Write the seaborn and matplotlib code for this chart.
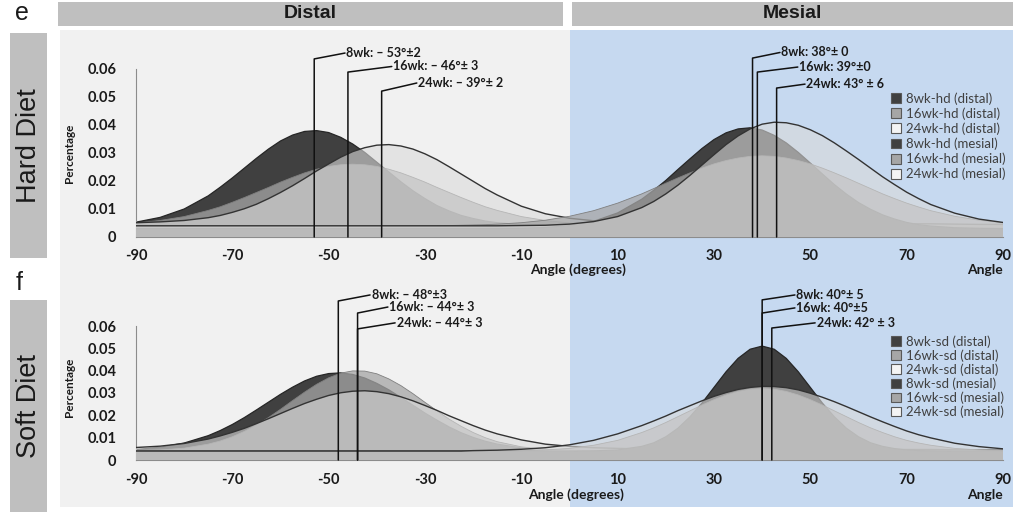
import matplotlib
matplotlib.use("Agg")
import matplotlib.pyplot as plt
from matplotlib.patches import Rectangle, Patch
import pandas as pd
import seaborn as sns

# ---------------------------------------------------------------- data
angles = [-90, -85, -80, -75, -72.5, -70, -67.5, -65, -62.5, -60,
          -57.5, -55, -52.5, -50, -47.5, -45, -42.5, -40, -37.5, -35,
          -32.5, -30, -27.5, -25, -22.5, -20, -17.5, -15, -10, -5,
          0, 5, 10, 15, 17.5, 20, 22.5, 25, 27.5, 30,
          32.5, 35, 37.5, 40, 42.5, 45, 47.5, 50, 52.5, 55,
          57.5, 60, 62.5, 65, 67.5, 70, 72.5, 75, 80, 85,
          90]

# Hard diet, distribution of angles (fraction per degree)
hd_distal_8wk = [.0053, .0070, .0100, .0147, .0178, .0211, .0246, .0281, .0314, .0343,
                 .0364, .0377, .0380, .0373, .0356, .0332, .0302, .0267, .0232, .0197,
                 .0165, .0137, .0112, .0093, .0077, .0066, .0057, .0051, .0044, .0041,
                 .0040, .0040, .0039, .0039, .0039, .0039, .0039, .0039, .0039, .0039,
                 .0039, .0038, .0038, .0038, .0038, .0038, .0038, .0038, .0038, .0037,
                 .0037, .0037, .0037, .0037, .0037, .0037, .0037, .0037, .0036, .0036,
                 .0035]
hd_distal_16wk = [.0050, .0059, .0073, .0095, .0108, .0124, .0141, .0159, .0177, .0196,
                  .0213, .0229, .0242, .0252, .0258, .0260, .0258, .0252, .0242, .0229,
                  .0213, .0196, .0177, .0159, .0141, .0124, .0108, .0095, .0073, .0059,
                  .0050, .0045, .0042, .0041, .0041, .0041, .0041, .0041, .0041, .0041,
                  .0041, .0040, .0040, .0040, .0040, .0040, .0040, .0040, .0040, .0040,
                  .0040, .0040, .0040, .0040, .0040, .0040, .0040, .0040, .0040, .0040,
                  .0040]
hd_distal_24wk = [.0051, .0054, .0059, .0069, .0077, .0088, .0101, .0117, .0137, .0159,
                  .0183, .0209, .0236, .0261, .0285, .0305, .0319, .0328, .0330, .0325,
                  .0314, .0297, .0276, .0251, .0225, .0199, .0173, .0150, .0110, .0083,
                  .0067, .0058, .0053, .0050, .0050, .0050, .0050, .0050, .0050, .0050,
                  .0050, .0048, .0048, .0048, .0048, .0048, .0048, .0048, .0048, .0047,
                  .0047, .0047, .0047, .0047, .0047, .0047, .0047, .0047, .0046, .0045,
                  .0045]
hd_mesial_8wk = [.0030, .0030, .0030, .0030, .0030, .0030, .0030, .0030, .0030, .0030,
                 .0030, .0030, .0030, .0030, .0030, .0030, .0030, .0030, .0030, .0030,
                 .0030, .0030, .0030, .0030, .0030, .0030, .0030, .0030, .0031, .0034,
                 .0041, .0056, .0086, .0135, .0167, .0202, .0241, .0279, .0316, .0348,
                 .0372, .0386, .0390, .0382, .0363, .0336, .0302, .0264, .0225, .0187,
                 .0153, .0123, .0099, .0079, .0064, .0052, .0044, .0039, .0033, .0031,
                 .0030]
hd_mesial_16wk = [.0040, .0040, .0040, .0040, .0040, .0040, .0040, .0040, .0040, .0040,
                  .0040, .0040, .0040, .0040, .0040, .0040, .0040, .0040, .0040, .0040,
                  .0040, .0040, .0040, .0041, .0042, .0043, .0044, .0046, .0051, .0060,
                  .0074, .0094, .0121, .0154, .0173, .0192, .0211, .0229, .0246, .0261,
                  .0273, .0282, .0288, .0290, .0288, .0282, .0273, .0261, .0246, .0229,
                  .0211, .0192, .0173, .0154, .0137, .0121, .0107, .0094, .0074, .0060,
                  .0051]
hd_mesial_24wk = [.0040, .0040, .0040, .0040, .0040, .0040, .0040, .0040, .0040, .0040,
                  .0040, .0040, .0040, .0040, .0040, .0040, .0040, .0040, .0040, .0040,
                  .0040, .0040, .0040, .0040, .0040, .0040, .0040, .0040, .0041, .0042,
                  .0046, .0055, .0073, .0105, .0127, .0154, .0185, .0220, .0257, .0294,
                  .0330, .0361, .0386, .0403, .0410, .0408, .0399, .0383, .0362, .0336,
                  .0307, .0277, .0246, .0215, .0187, .0160, .0137, .0116, .0085, .0064,
                  .0052]

# Soft diet
sd_distal_8wk = [.0047, .0057, .0076, .0109, .0132, .0159, .0190, .0224, .0259, .0294,
                 .0326, .0354, .0375, .0387, .0390, .0383, .0367, .0343, .0314, .0280,
                 .0245, .0210, .0178, .0148, .0122, .0101, .0084, .0071, .0054, .0046,
                 .0042, .0040, .0040, .0039, .0039, .0039, .0039, .0039, .0039, .0039,
                 .0039, .0039, .0039, .0039, .0039, .0039, .0039, .0039, .0039, .0039,
                 .0038, .0038, .0038, .0038, .0038, .0038, .0038, .0038, .0038, .0038,
                 .0038]
sd_distal_16wk = [.0042, .0045, .0053, .0071, .0085, .0104, .0128, .0157, .0190, .0227,
                  .0266, .0304, .0339, .0368, .0389, .0399, .0398, .0386, .0363, .0333,
                  .0297, .0258, .0220, .0183, .0151, .0123, .0100, .0082, .0059, .0047,
                  .0042, .0040, .0040, .0040, .0040, .0040, .0040, .0040, .0040, .0040,
                  .0040, .0040, .0040, .0040, .0040, .0040, .0040, .0040, .0040, .0040,
                  .0040, .0040, .0040, .0040, .0040, .0040, .0040, .0040, .0040, .0040,
                  .0040]
sd_distal_24wk = [.0056, .0062, .0074, .0094, .0108, .0124, .0142, .0163, .0185, .0208,
                  .0231, .0253, .0272, .0289, .0301, .0308, .0310, .0306, .0297, .0283,
                  .0265, .0244, .0222, .0198, .0176, .0154, .0134, .0117, .0090, .0071,
                  .0061, .0055, .0052, .0050, .0050, .0050, .0050, .0050, .0050, .0050,
                  .0050, .0048, .0048, .0048, .0048, .0048, .0048, .0048, .0048, .0047,
                  .0047, .0047, .0047, .0047, .0047, .0047, .0047, .0047, .0046, .0046,
                  .0046]
sd_mesial_8wk = [.0040, .0040, .0040, .0040, .0040, .0040, .0040, .0040, .0040, .0040,
                 .0040, .0040, .0040, .0040, .0040, .0040, .0040, .0040, .0040, .0040,
                 .0040, .0040, .0040, .0040, .0040, .0040, .0040, .0040, .0040, .0040,
                 .0040, .0041, .0045, .0061, .0077, .0104, .0142, .0193, .0255, .0325,
                 .0395, .0455, .0496, .0510, .0496, .0455, .0395, .0325, .0255, .0193,
                 .0142, .0104, .0077, .0061, .0051, .0045, .0042, .0041, .0040, .0040,
                 .0040]
sd_mesial_16wk = [.0040, .0040, .0040, .0040, .0040, .0040, .0040, .0040, .0040, .0040,
                  .0040, .0040, .0040, .0040, .0040, .0040, .0040, .0040, .0040, .0040,
                  .0040, .0040, .0040, .0040, .0040, .0040, .0040, .0041, .0042, .0045,
                  .0052, .0066, .0088, .0123, .0144, .0168, .0194, .0220, .0246, .0270,
                  .0291, .0307, .0317, .0320, .0317, .0307, .0291, .0270, .0246, .0220,
                  .0194, .0168, .0144, .0123, .0104, .0088, .0076, .0066, .0052, .0045,
                  .0042]
sd_mesial_24wk = [.0040, .0040, .0040, .0040, .0040, .0040, .0040, .0040, .0040, .0040,
                  .0040, .0040, .0040, .0040, .0040, .0040, .0040, .0040, .0040, .0040,
                  .0040, .0040, .0040, .0040, .0040, .0042, .0043, .0044, .0048, .0055,
                  .0068, .0088, .0117, .0154, .0175, .0197, .0221, .0243, .0265, .0285,
                  .0302, .0316, .0325, .0330, .0329, .0324, .0314, .0299, .0281, .0261,
                  .0239, .0216, .0193, .0171, .0150, .0130, .0113, .0099, .0075, .0060,
                  .0050]

y_ticks = [0, 0.01, 0.02, 0.03, 0.04, 0.05, 0.06]
y_tick_labels = ["0", "0.01", "0.02", "0.03", "0.04", "0.05", "0.06"]
x_ticks = [-90, -70, -50, -30, -10, 10, 30, 50, 70, 90]
x_tick_labels = ["-90", "-70", "-50", "-30", "-10", "10", "30", "50", "70", "90"]

hd_labels = ["8wk-hd (distal)", "16wk-hd (distal)", "24wk-hd (distal)",
             "8wk-hd (mesial)", "16wk-hd (mesial)", "24wk-hd (mesial)"]
sd_labels = ["8wk-sd (distal)", "16wk-sd (distal)", "24wk-sd (distal)",
             "8wk-sd (mesial)", "16wk-sd (mesial)", "24wk-sd (mesial)"]

hd_means = [-53, -46, -39, 38, 39, 43]
sd_means = [-48, -44, -44, 40, 40, 42]
hd_texts = ["8wk: \u2013 53°±2", "16wk: \u2013 46°± 3", "24wk: \u2013 39°± 2",
            "8wk: 38°± 0", "16wk: 39°±0", "24wk: 43° ± 6"]
sd_texts = ["8wk: \u2013 48°±3", "16wk: \u2013 44°± 3", "24wk: \u2013 44°± 3",
            "8wk: 40°± 5", "16wk: 40°±5", "24wk: 42° ± 3"]

# ---------------------------------------------------------------- style
sns.set_theme(style="white")
plt.rcParams["font.family"] = ["Lato", "DejaVu Sans"]

W, H = 1013, 517
fig = plt.figure(figsize=(W / 100, H / 100), dpi=100)


def fx(px):
    return px / W


def fy(py):
    return 1 - py / H


def fig_rect(x0, y0, x1, y1, color):
    fig.patches.append(Rectangle((fx(x0), fy(y1)), fx(x1 - x0), (y1 - y0) / H,
                                 transform=fig.transFigure, facecolor=color,
                                 edgecolor="none", zorder=-10))


# panel backgrounds and headers
fig_rect(60, 30, 569.5, 507, "#f1f1f1")
fig_rect(569.5, 30, 1013, 507, "#c6d9f0")
fig_rect(58, 2, 563, 26, "#bfbfbf")
fig_rect(572, 2, 1013, 26, "#bfbfbf")
fig_rect(10, 33, 47, 258, "#bfbfbf")
fig_rect(10, 300, 47, 512, "#bfbfbf")

head = dict(family=["Liberation Sans", "DejaVu Sans"], fontweight="bold", fontsize=14,
            color="#1a1a1a", ha="center", va="center")
fig.text(fx(310), fy(14), "Distal", **head)
fig.text(fx(792), fy(14), "Mesial", **head)
side = dict(family=["Liberation Sans", "DejaVu Sans"], fontsize=19.5, color="#1a1a1a",
            ha="center", va="center", rotation=90)
fig.text(fx(29), fy(146), "Hard Diet", **side)
fig.text(fx(29), fy(406), "Soft Diet", **side)
letter = dict(family=["Liberation Sans", "DejaVu Sans"], fontsize=18, color="#1a1a1a",
              ha="center", va="center")
fig.text(fx(22), fy(13), "e", **letter)
fig.text(fx(19), fy(283), "f", **letter)

# series appearance: 8wk dark, 16wk mid grey, 24wk translucent light grey with outline
looks = [
    dict(face="#404040", alpha=1.0, edge="#262626", lw=0.9),
    dict(face="#a6a6a6", alpha=0.75, edge="#7f7f7f", lw=0.6),
    dict(face="#dadada", alpha=0.6, edge="#333333", lw=1.0),
]


def draw_panel(ax, series, labels, means, texts, ann, leg_y, leg_pad):
    long = pd.DataFrame({
        "angle": angles * len(series),
        "pct": [v for s in series for v in s],
        "series": [lab for lab in labels for _ in angles],
    })
    for i, lab in enumerate(labels):
        sty = looks[i % 3]
        part = long[long["series"] == lab]
        ax.fill_between(part["angle"], 0, part["pct"], facecolor=sty["face"],
                        alpha=sty["alpha"], edgecolor="none", zorder=2 + i)
        sns.lineplot(data=part, x="angle", y="pct", color=sty["edge"], lw=sty["lw"],
                     ax=ax, zorder=2.5 + i, legend=False)

    ax.set_xlim(-90, 90)
    ax.set_ylim(0, 0.06)
    ax.set_facecolor("none")
    ax.set_xticks(x_ticks, x_tick_labels)
    ax.set_yticks(y_ticks, y_tick_labels)
    for s in ("top", "right"):
        ax.spines[s].set_visible(False)
    for s in ("left", "bottom"):
        ax.spines[s].set_color("#8c8c8c")
        ax.spines[s].set_linewidth(0.8)
    ax.tick_params(axis="x", length=4, width=0.8, color="#8c8c8c", pad=5,
                   labelsize=10.5, labelcolor="#1a1a1a")
    ax.tick_params(axis="y", length=4, width=0.8, color="#8c8c8c", pad=10,
                   labelsize=10.5, labelcolor="#1a1a1a")
    for t in ax.get_xticklabels() + ax.get_yticklabels():
        t.set_fontweight("bold")
    ax.set_xlabel("")
    ax.set_ylabel("Percentage", fontsize=8.5, fontweight="bold", color="#1a1a1a")

    # mean markers with elbow leaders
    for m, txt, (ytop, xe, ye) in zip(means, texts, ann):
        ax.plot([m, m, xe], [0, ytop, ye], color="#111111", lw=1.1, clip_on=False,
                zorder=20)
        ax.text(xe + 0.3, ye, txt, fontsize=9, fontweight="bold", color="#1a1a1a",
                ha="left", va="center", clip_on=False, zorder=21)

    handles = [Patch(facecolor=c, edgecolor="#595959", lw=0.8)
               for c in ["#404040", "#a6a6a6", "#f4f4f4"] * 2]
    ax.legend(handles, labels, loc="upper left", bbox_to_anchor=(fx(891), leg_y),
              bbox_transform=fig.transFigure, frameon=False, fontsize=9.5,
              labelcolor="#404040", handlelength=0.75, handleheight=0.75,
              handletextpad=0.35, labelspacing=leg_pad, borderpad=0, borderaxespad=0)


ax_top = fig.add_axes([fx(136), fy(237), fx(867), 168 / H])
ax_bot = fig.add_axes([fx(136), fy(460), fx(867), 134 / H])

hd_ann = [(0.0636, -46.6, 0.0657), (0.0589, -36.9, 0.0609), (0.0521, -31.7, 0.0550),
          (0.0639, 43.7, 0.0659), (0.0589, 47.4, 0.0607), (0.0532, 48.9, 0.0546)]
sd_ann = [(0.0712, -41.4, 0.0739), (0.0658, -37.7, 0.0685), (0.0587, -36.2, 0.0614),
          (0.0717, 46.8, 0.0739), (0.0658, 46.8, 0.0681), (0.0591, 51.0, 0.0614)]

draw_panel(ax_top,
           [hd_distal_8wk, hd_distal_16wk, hd_distal_24wk,
            hd_mesial_8wk, hd_mesial_16wk, hd_mesial_24wk],
           hd_labels, hd_means, hd_texts, hd_ann, fy(92), 0.2)
draw_panel(ax_bot,
           [sd_distal_8wk, sd_distal_16wk, sd_distal_24wk,
            sd_mesial_8wk, sd_mesial_16wk, sd_mesial_24wk],
           sd_labels, sd_means, sd_texts, sd_ann, fy(335), 0.12)

ax_top.yaxis.set_label_coords(-0.070, 0.5)
ax_bot.yaxis.set_label_coords(-0.070, 0.545)

lab = dict(fontsize=10, fontweight="bold", color="#1a1a1a", va="center")
ax_top.text(0.51, -0.196, "Angle (degrees)", transform=ax_top.transAxes, ha="center", **lab)
ax_top.text(1.0, -0.196, "Angle", transform=ax_top.transAxes, ha="right", **lab)
ax_bot.text(0.508, -0.26, "Angle (degrees)", transform=ax_bot.transAxes, ha="center", **lab)
ax_bot.text(1.0, -0.26, "Angle", transform=ax_bot.transAxes, ha="right", **lab)

fig.savefig("out.png", dpi=100)
